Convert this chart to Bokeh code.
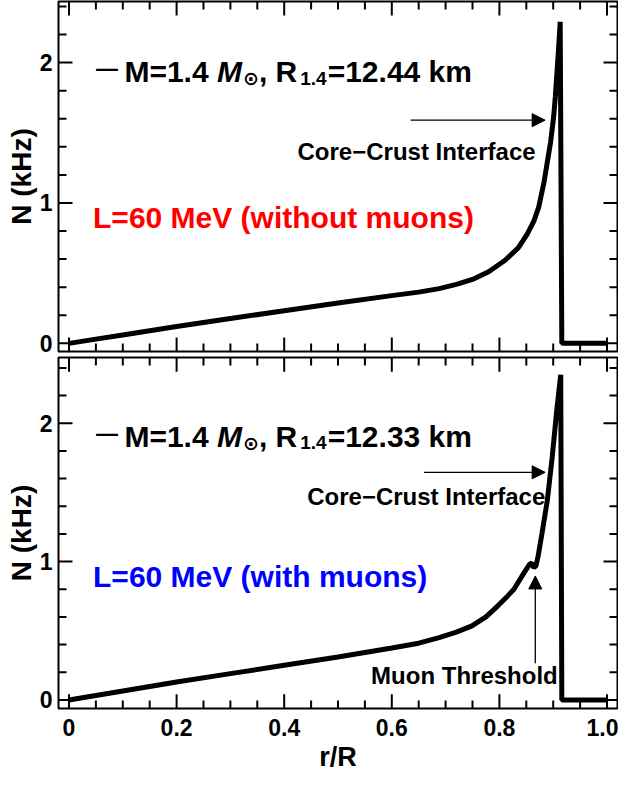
import numpy as np
from bokeh.plotting import figure
from bokeh.layouts import column
from bokeh.models import (Range1d, LinearAxis, FixedTicker, CustomJSTickFormatter,
                          Label, Arrow, NormalHead, ColumnDataSource)
from bokeh.embed import file_html
from bokeh.resources import INLINE

FONT = "Liberation Sans"

# ---------------- data ----------------
r_top = [0.0, 0.05, 0.1, 0.2, 0.3, 0.4, 0.5, 0.6, 0.65, 0.688, 0.72, 0.75, 0.78,
         0.81, 0.835, 0.852, 0.864, 0.873, 0.883, 0.889, 0.895, 0.901, 0.904,
         0.910, 0.913, 0.916, 1.0]
n_top = [0.0, 0.03, 0.06, 0.12, 0.177, 0.232, 0.287, 0.34, 0.365, 0.39, 0.42,
         0.455, 0.51, 0.59, 0.68, 0.78, 0.87, 0.97, 1.15, 1.29, 1.43, 1.62, 1.76,
         2.10, 2.29, 0.0, 0.0]

r_bot = [0.0, 0.05, 0.1, 0.2, 0.3, 0.4, 0.5, 0.6, 0.65, 0.688, 0.72, 0.749,
         0.775, 0.797, 0.815, 0.827, 0.846, 0.856, 0.860, 0.864, 0.868, 0.872,
         0.879, 0.889, 0.898, 0.907, 0.914, 0.916, 1.0]
n_bot = [0.0, 0.032, 0.064, 0.13, 0.19, 0.25, 0.31, 0.375, 0.41, 0.45, 0.49,
         0.535, 0.6, 0.68, 0.75, 0.80, 0.92, 0.98, 0.99, 0.955, 0.97, 1.04,
         1.20, 1.44, 1.75, 2.11, 2.35, 0.0, 0.0]

x_major = [0.0, 0.2, 0.4, 0.6, 0.8, 1.0]
x_minor = [0.05, 0.1, 0.15, 0.25, 0.3, 0.35, 0.45, 0.5, 0.55, 0.65, 0.7, 0.75,
           0.85, 0.9, 0.95]
y_major = [0, 1, 2]
y_minor = [0.2, 0.4, 0.6, 0.8, 1.2, 1.4, 1.6, 1.8, 2.2, 2.4]

radius_labels = ["12.44", "12.33"]
model_labels = ["L=60 MeV (without muons)", "L=60 MeV (with muons)"]
model_colors = ["#ff0000", "#0000ff"]

X_RANGE = (-0.0195, 1.0195)
WIDTH = 618
BORDER_L, BORDER_R = 58, 1
MAJOR_LEN = 14   # px
MINOR_LEN = 8    # px

# Arial-Bold advance widths (em) for the legend pieces
ADV = {"M": .833, "=": .584, "1": .556, ".": .278, "4": .556, "2": .556,
       "3": .556, " ": .278, ",": .278, "R": .722, "k": .556, "m": .889}


def text_w(s, size):
    return sum(ADV.get(c, .556) for c in s) * size


def label_axis(ax):
    ax.axis_line_color = None
    ax.major_tick_in = 0
    ax.major_tick_out = 0
    ax.minor_tick_in = 0
    ax.minor_tick_out = 0
    ax.major_tick_line_color = None
    ax.minor_tick_line_color = None
    ax.major_label_text_font = FONT
    ax.major_label_text_font_size = "23px"
    ax.major_label_text_font_style = "bold"
    ax.major_label_text_color = "black"


def frame_ticks(p, yr, frame_h):
    """Inward Mathematica-style frame ticks on all four sides, drawn as one
    broken polyline (NaN gaps) in the same way as the curve."""
    frame_w = WIDTH - BORDER_L - BORDER_R
    dx = (X_RANGE[1] - X_RANGE[0]) / frame_w   # data units per px (x)
    dy = (yr[1] - yr[0]) / frame_h              # data units per px (y)
    xs, ys = [], []
    for ticks, ln in ((x_major, MAJOR_LEN), (x_minor, MINOR_LEN)):
        for t in ticks:
            xs += [t, t, np.nan, t, t, np.nan]
            ys += [yr[0], yr[0] + ln * dy, np.nan, yr[1], yr[1] - ln * dy, np.nan]
    for ticks, ln in ((y_major, MAJOR_LEN), (y_minor, MINOR_LEN)):
        for t in ticks:
            ys += [t, t, np.nan, t, t, np.nan]
            xs += [X_RANGE[0], X_RANGE[0] + ln * dx, np.nan,
                   X_RANGE[1], X_RANGE[1] - ln * dx, np.nan]
    src = ColumnDataSource(dict(x=np.array(xs, dtype=float), y=np.array(ys, dtype=float)))
    p.line("x", "y", source=src, line_color="black", line_width=2)


def make_panel(r, n, yr, height, btop, bbot, frame_h, show_x):
    p = figure(width=WIDTH, height=height, x_range=Range1d(*X_RANGE),
               y_range=Range1d(*yr), output_backend="svg", toolbar_location=None,
               x_axis_location=None, y_axis_location=None,
               min_border_left=BORDER_L, min_border_right=BORDER_R,
               min_border_top=btop, min_border_bottom=bbot)
    p.outline_line_color = "black"
    p.outline_line_width = 2
    p.background_fill_color = None
    p.border_fill_color = None
    p.xgrid.visible = False
    p.ygrid.visible = False

    xt = FixedTicker(ticks=x_major, minor_ticks=x_minor)
    yt = FixedTicker(ticks=y_major, minor_ticks=y_minor)

    left = LinearAxis(ticker=yt, axis_label="N (kHz)",
                      formatter=CustomJSTickFormatter(code="return tick.toFixed(0);"))
    label_axis(left)
    left.major_label_standoff = 6
    left.axis_label_standoff = 0
    left.axis_label_text_font = FONT
    left.axis_label_text_font_size = "28px"
    left.axis_label_text_font_style = "bold"
    left.axis_label_text_color = "black"
    p.add_layout(left, "left")

    if show_x:
        bottom = LinearAxis(ticker=xt, axis_label="r/R",
                            formatter=CustomJSTickFormatter(
                                code="return tick === 0 ? '0' : tick.toFixed(1);"))
        label_axis(bottom)
        bottom.major_label_standoff = 10
        bottom.axis_label_standoff = 3
        bottom.axis_label_text_font = FONT
        bottom.axis_label_text_font_size = "27px"
        bottom.axis_label_text_font_style = "bold"
        bottom.axis_label_text_color = "black"
        p.add_layout(bottom, "below")

    src = ColumnDataSource(dict(r=r, n=n))
    p.line("r", "n", source=src, line_color="black", line_width=5, line_join="bevel")

    frame_ticks(p, yr, frame_h)
    return p


top = make_panel(r_top, n_top, (-0.058, 2.435), 356, 1, 5, 350, False)
bot = make_panel(r_bot, n_bot, (-0.062, 2.475), 418, 1, 66, 346, True)


def annotate(p, idx, leg_y, sub_dy, cc_xy, arrow_xy, model_y):
    F = 30
    S = 19
    x0 = 0.103
    # legend sample dash
    p.add_layout(Label(x=0.05, y=leg_y + 0.02, text="—", text_font=FONT,
                       text_font_size="22px", text_font_style="bold",
                       text_baseline="alphabetic", text_color="black"))
    pieces = []
    off = 0.0
    pieces.append(("M=1.4 ", off, F, "bold", 0.0, FONT)); off += text_w("M=1.4 ", F)
    pieces.append(("M", off, F, "bold italic", 0.0, FONT)); off += text_w("M", F) + 1
    pieces.append(("⊙", off, S, "bold", -sub_dy, "DejaVu Sans")); off += 0.84 * S
    pieces.append((", R", off, F, "bold", 0.0, FONT)); off += text_w(", R", F) + 3
    pieces.append(("1.4", off, S, "bold", -sub_dy, FONT)); off += text_w("1.4", S) + 1
    pieces.append(("=" + radius_labels[idx] + " km", off, F, "bold", 0.0, FONT))
    for t, o, sz, st, dy, fnt in pieces:
        p.add_layout(Label(x=x0, y=leg_y + dy, x_offset=o, text=t, text_font=fnt,
                           text_font_size=f"{sz}px", text_font_style=st,
                           text_baseline="alphabetic", text_align="left",
                           text_color="black"))
    # core-crust interface
    p.add_layout(Label(x=cc_xy[0], y=cc_xy[1], text="Core−Crust Interface", text_font=FONT,
                       text_font_size="24px", text_font_style="bold", text_color="black",
                       text_align="center", text_baseline="middle"))
    p.add_layout(Arrow(end=NormalHead(size=13, fill_color="black", line_color="black"),
                       x_start=arrow_xy[0], y_start=arrow_xy[2],
                       x_end=arrow_xy[1], y_end=arrow_xy[2], line_width=1.3,
                       line_color="black"))
    # model label
    p.add_layout(Label(x=0.0447, y=model_y, text=model_labels[idx], text_font=FONT,
                       text_font_size="30px", text_font_style="bold",
                       text_color=model_colors[idx], text_align="left",
                       text_baseline="middle"))


annotate(top, 0, 1.935, 0.045, (0.646, 1.37), (0.635, 0.885, 1.59), 0.895)
annotate(bot, 1, 1.905, 0.045, (0.664, 1.47), (0.66, 0.885, 1.645), 0.895)

# muon threshold
bot.add_layout(Label(x=0.735, y=0.175, text="Muon Threshold", text_font=FONT,
                     text_font_size="24px", text_font_style="bold", text_color="black",
                     text_align="center", text_baseline="middle"))
bot.add_layout(Arrow(end=NormalHead(size=13, fill_color="black", line_color="black"),
                     x_start=0.8667, y_start=0.265, x_end=0.8667, y_end=0.896,
                     line_width=1.3, line_color="black"))

layout = column(top, bot, spacing=0)
open("out.html", "w").write(file_html(layout, INLINE))
